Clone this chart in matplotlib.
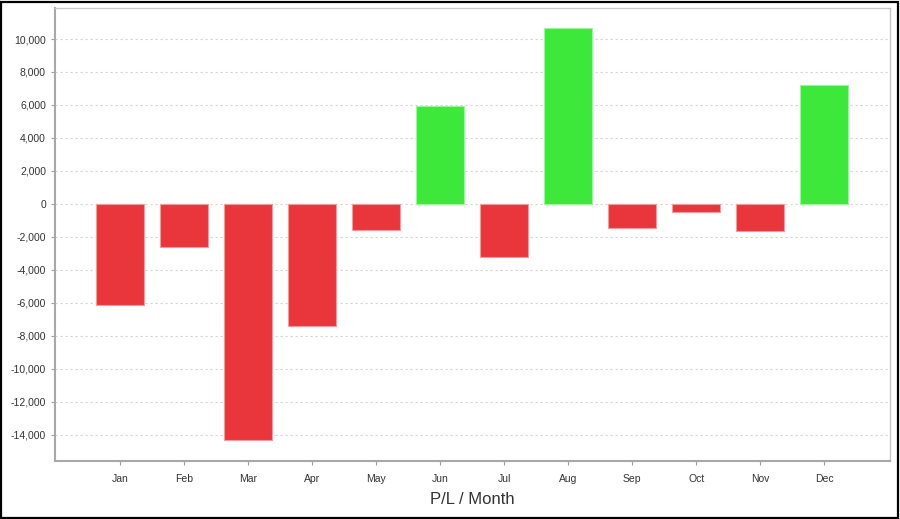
import matplotlib
matplotlib.use("Agg")
import matplotlib.pyplot as plt
from matplotlib.ticker import FuncFormatter, MultipleLocator
from matplotlib.patches import Rectangle

plt.rcParams['font.family'] = ['Liberation Sans', 'DejaVu Sans']

months = ["Jan", "Feb", "Mar", "Apr", "May", "Jun", "Jul", "Aug", "Sep", "Oct", "Nov", "Dec"]
pl_values = [-6120, -2600, -14320, -7390, -1580, 5950, -3210, 10650, -1480, -520, -1670, 7200]

pos_color = "#3de83a"
neg_color = "#e8363c"
pos_edge = "#9cf59a"
neg_edge = "#f29a9c"

fig = plt.figure(figsize=(9, 5.19), dpi=100)
ax = fig.add_axes([55 / 900, 1 - 461 / 519, (890 - 55) / 900, (461 - 8) / 519])

x = list(range(len(months)))
colors = [pos_color if v >= 0 else neg_color for v in pl_values]
edges = [pos_edge if v >= 0 else neg_edge for v in pl_values]
ax.bar(x, pl_values, width=0.75, color=colors, edgecolor=edges, linewidth=0.8, zorder=3)

ax.set_xlim(-1.02, 12.03)
ax.set_ylim(-15590, 11880)
ax.yaxis.set_major_locator(MultipleLocator(2000))
ax.yaxis.set_major_formatter(FuncFormatter(lambda v, p: f"{int(v):,}"))
ax.set_xticks(x)
ax.set_xticklabels(months)

ax.grid(axis="y", color="#d4d4d4", linestyle=(0, (2, 2.5)), linewidth=0.8, zorder=0)
ax.grid(axis="x", visible=False)

for side in ["left", "bottom"]:
    ax.spines[side].set_color("#a8a8a8")
    ax.spines[side].set_linewidth(1.5)
for side in ["top", "right"]:
    ax.spines[side].set_color("#c8c8c8")
    ax.spines[side].set_linewidth(1.0)

ax.tick_params(axis="both", colors="#a0a0a0", labelcolor="#333333", labelsize=7.5, length=3, width=0.8)
ax.tick_params(axis="x", pad=6)

ax.set_xlabel("P/L / Month", fontsize=12, color="#333333", labelpad=6)

# outer border
fig.patches.append(Rectangle((0.001, 0.002), 0.997, 0.995, transform=fig.transFigure,
                             fill=False, edgecolor="black", linewidth=1.6))

fig.savefig("out.png", dpi=100)
